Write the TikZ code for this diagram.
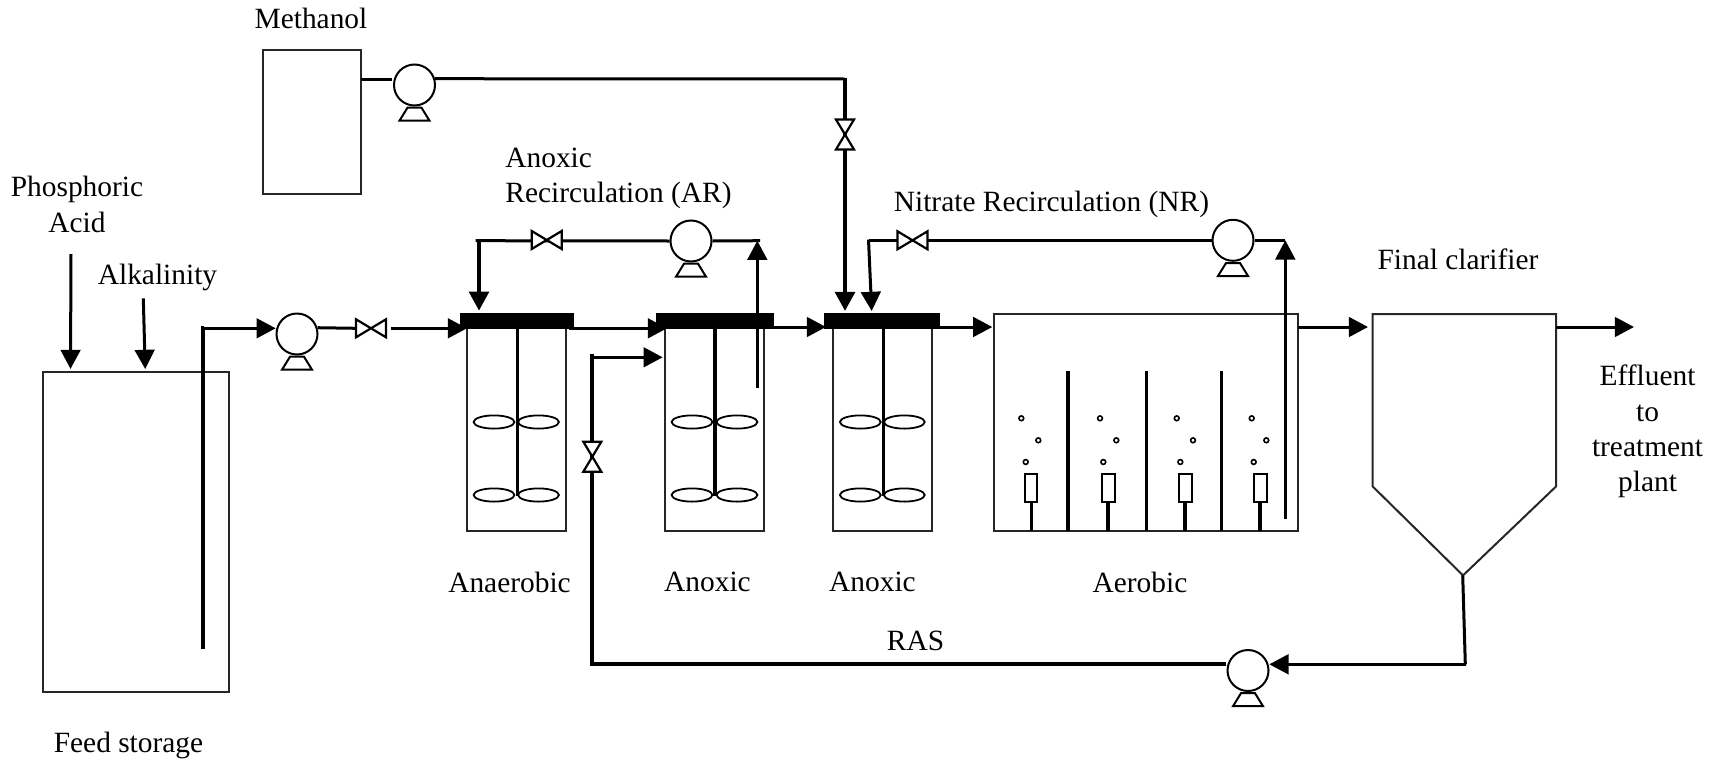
\documentclass[tikz,border=0pt]{standalone}
\usepackage{fontspec}
\setmainfont{Liberation Serif}
\usetikzlibrary{arrows.meta,shapes.geometric}
\tikzset{
  x=.5pt,y=-.5pt,
  pipe/.style={line width=1.5pt},
  thickpipe/.style={line width=2.1pt},
  flow/.style={pipe,-{Triangle[length=9.6pt,width=9.8pt]}},
  thickflow/.style={thickpipe,-{Triangle[length=9.6pt,width=9.8pt]}},
  wall/.style={line width=1pt,draw=black!85},
  pumpc/.style={circle,draw,line width=1pt,minimum size=20.5pt,inner sep=0pt,fill=white},
  lbl/.style={font=\fontsize{14.7pt}{17.6pt}\selectfont,inner sep=0pt,align=center},
  lbll/.style={lbl,anchor=west},
  tankbox/.style={draw=black!85,line width=1pt,inner sep=0pt,outer sep=0pt,anchor=north west},
  topbar/.style={fill=black,inner sep=0pt,outer sep=0pt,anchor=north west,minimum height=8.2pt},
  imp/.style={ellipse,draw,line width=.9pt,minimum width=20.4pt,minimum height=6.6pt,inner sep=0pt},
  shaft/.style={line width=1.6pt},
  pics/valve/.style={code={\draw[line width=1.1pt,fill=white] (-15,-9)--(15,9)--(15,-9)--(-15,9)--cycle;}},
  pics/pumpbase/.style={code={\draw[line width=1pt] (-7,22.7)--(7,22.7)--(15,35.7)--(-15,35.7)--cycle;}},
}
\begin{document}
\begin{tikzpicture}
\useasboundingbox (0,0) rectangle (1722,760);
% tanks
\node[tankbox,minimum width=93pt,minimum height=160.2pt] (feed) at (43.3,371.7) {};
\node[tankbox,minimum width=49.4pt,minimum height=72pt] (meth) at (262.5,50.2) {};
\node[tankbox,minimum width=49.5pt,minimum height=108.5pt] (t1) at (467,314) {};
\node[tankbox,minimum width=49.5pt,minimum height=108.5pt] (t2) at (665,314) {};
\node[tankbox,minimum width=49.5pt,minimum height=108.5pt] (t3) at (833.3,314) {};
\node[tankbox,minimum width=151.8pt,minimum height=108.5pt] (t4) at (994,314) {};
\node[topbar,minimum width=57pt] (b1) at (460,312.7) {};
\node[topbar,minimum width=59pt] (b2) at (656,312.7) {};
\node[topbar,minimum width=57.8pt] (b3) at (824.3,312.7) {};
% clarifier
\draw[wall] (1372.7,314)--(1556,314)--(1556,486.5)--(1463,575.4)--(1372.7,486.5)--cycle;
\coordinate (cone) at (1462.7,575.4);
% pumps
\node[pumpc] (p1) at (297,334) {};
\node[pumpc] (pm) at (414.5,85) {};
\node[pumpc] (par) at (691,241) {};
\node[pumpc] (pnr) at (1233,240.3) {};
\node[pumpc] (pras) at (1248,670.5) {};
\foreach \p in {p1,pm,par,pnr,pras} \path (\p) pic {pumpbase};
% feed line
\coordinate (fb) at (203.3,649);
\coordinate (fc) at (203.3,328.3);
\draw[thickpipe] (fb)--(fc)--(204,328.3);
\draw[flow] (202,328.3)--(275.7,328.3);
\coordinate (v1l) at (356,328.3);
\coordinate (v1r) at (390.7,328.3);
\draw[pipe] (p1.17)--(v1l);
\draw[flow] (v1r)--(467,328.3);
\draw[flow] (569,328.3)--(667,328.3);
\draw[flow] (774,327)--(826,327);
\draw[flow] (940,327)--(992.3,327);
\draw[flow] (1297.7,327)--(1368,327);
\draw[flow] (1556,327)--(1634,327);
% methanol
\coordinate (mc) at (845,79);
\draw[pipe] (meth.east |- mc)--(391.5,79);
\draw[pipe] (pm.17)--(mc);
\draw[thickflow] (845,78.3)--(845,311);
% AR
\coordinate (arl) at (475.7,240.7);
\coordinate (arr) at (760,240.7);
\coordinate (arb) at (757.3,387.7);
\draw[pipe] (par.west)--(arl);
\draw[pipe] (par.east)--(arr);
\draw[thickflow] (479,239.8)--(479,310.7);
\draw[flow] (arb)--(757.3,240.7);
% NR
\coordinate (nrl) at (869,240.3);
\coordinate (nrr) at (1285.3,240.3);
\coordinate (nrb) at (1285.3,519.3);
\draw[pipe] (pnr.west)--(nrl);
\draw[pipe] (pnr.east)--(nrr);
\draw[flow] (868.5,239.6)--(871.7,311);
\draw[flow] (nrb)--(nrr);
% RAS
\coordinate (rc) at (1465.3,664.3);
\coordinate (rl) at (592,664.3);
\coordinate (rt) at (592,354);
\draw[pipe] (cone)--(rc);
\draw[flow] (1466,664.3)--(1269.3,664.3);
\draw[thickpipe] (1226,664.3)--(rl)--(rt);
\draw[flow] (591,357.3)--(662.7,357.3);
% valves
\path (371,328.3) pic {valve};
\path (546.7,240) pic {valve};
\path (912.5,240.3) pic {valve};
\path (845,134.5) pic[rotate=90] {valve};
\path (592.3,456.7) pic[rotate=90] {valve};
% shafts and impellers
\foreach \n/\sx/\lx/\rx in {b1/517.3/494/538.5, b2/715/692/737, b3/883.3/860.3/904.3}{
  \draw[shaft] (\sx,329)--(\sx,496);
  \node[imp] (i\n a) at (\lx,422) {};
  \node[imp] (i\n b) at (\rx,422) {};
  \node[imp] (i\n c) at (\lx,495) {};
  \node[imp] (i\n d) at (\rx,495) {};
}
% aerobic partitions
\foreach \x in {1068,1146.7,1221.7} \draw[shaft] (\x,371)--(\x,531);
\foreach \l/\r/\s in {1025/1036.7/1031.3,1102/1115.3/1108,1178.7/1192.3/1185,1253.7/1267/1260}{
  \draw[line width=1pt] (\l,474) rectangle (\r,502);
  \draw[shaft] (\s,502)--(\s,531);
}
\foreach \x/\y in {1021.3/418.3,1038.3/440.3,1025.7/462,1100/418.3,1116.3/440.3,1103.3/462,1176.7/418.3,1193/440.3,1180.3/462,1251.7/418.3,1266.3/440.3,1253.7/462}
  \draw[line width=.8pt] (\x,\y) circle (1.2pt);
% inlet arrows
\coordinate (pa) at (71,254);
\coordinate (al) at (143.3,298.3);
\draw[flow] (pa)--(70.5,369);
\draw[flow] (al)--(145.2,369);
% labels
\node[lbl] (l1) at (311,18.7) {Methanol};
\node[lbl] (l2) at (77,204.5) {Phosphoric\\Acid};
\node[lbl] (l3) at (157.5,277.5) {Alkalinity};
\node[lbll] (l4) at (505,158) {Anoxic};
\node[lbll] (l5) at (505,195) {Recirculation (AR)};
\node[lbll] (l6) at (893.5,204) {Nitrate Recirculation (NR)};
\node[lbl] (l7) at (1458,259) {Final clarifier};
\node[lbl] (l8) at (1647.5,431.5) {Effluent\\to\\treatment\\plant};
\node[lbl] (l9) at (509.5,582) {Anaerobic};
\node[lbl] (l10) at (707.5,582) {Anoxic};
\node[lbl] (l11) at (872.5,582) {Anoxic};
\node[lbl] (l12) at (1140,582) {Aerobic};
\node[lbl] (l13) at (915.5,641) {RAS};
\node[lbl] (l14) at (128.5,745.5) {Feed storage};
\end{tikzpicture}
\end{document}
